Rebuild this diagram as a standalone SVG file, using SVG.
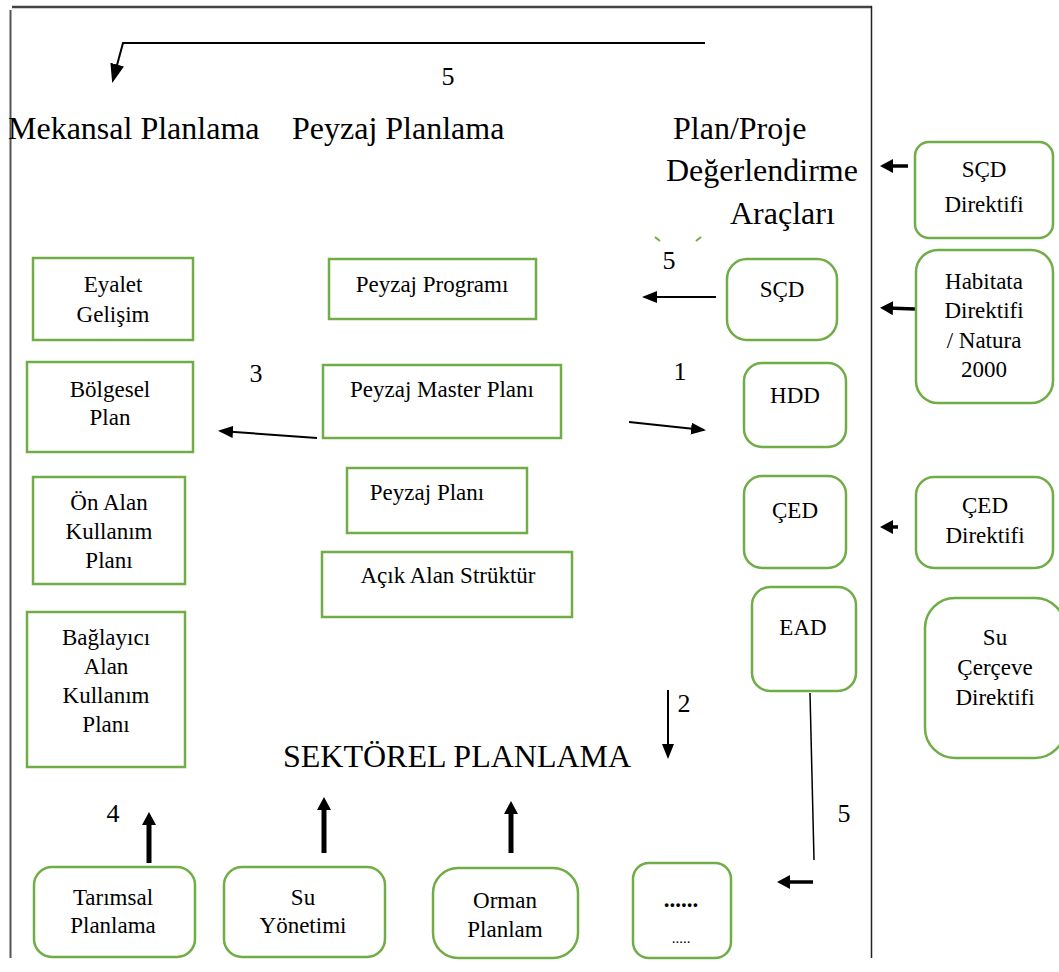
<svg xmlns="http://www.w3.org/2000/svg" width="1059" height="972" viewBox="0 0 1059 972">
<style>
.bx{fill:#fff;stroke:#70AD47;stroke-width:2.5}
.t{font-family:"Liberation Serif","Times New Roman",serif;font-size:23px;fill:#000;text-anchor:middle}
.h{font-family:"Liberation Serif","Times New Roman",serif;font-size:32px;fill:#000}
.n{font-family:"Liberation Serif","Times New Roman",serif;font-size:26px;fill:#000;text-anchor:middle}
.ln{fill:none;stroke:#000;stroke-width:2}
.lb{fill:none;stroke:#000;stroke-width:5}
.lm{fill:none;stroke:#000;stroke-width:3.5}
</style>
<defs>
<marker id="a" markerUnits="userSpaceOnUse" markerWidth="16" markerHeight="12" refX="13" refY="6" orient="auto"><path d="M0,0 L15,6 L0,12 z" fill="#000"/></marker>
<marker id="at" markerUnits="userSpaceOnUse" markerWidth="20" markerHeight="14" refX="16" refY="7" orient="auto"><path d="M0,0 L19,7 L0,14 z" fill="#000"/></marker>
<marker id="ab" markerUnits="userSpaceOnUse" markerWidth="14" markerHeight="14" refX="6" refY="7" orient="auto"><path d="M0,0 L13,7 L0,14 z" fill="#000"/></marker>
</defs>
<rect width="1059" height="972" fill="#fff"/>
<g id="frame">
<line x1="12" y1="7" x2="872" y2="7" stroke="#444" stroke-width="2.5"/>
<line x1="10.5" y1="10" x2="10.5" y2="958" stroke="#555" stroke-width="2"/>
<line x1="871.5" y1="6" x2="871.5" y2="958" stroke="#222" stroke-width="1.5"/>
</g>
<g id="headers">
<text class="h" x="8" y="139">Mekansal Planlama</text>
<text class="h" x="292" y="139">Peyzaj Planlama</text>
<text class="h" x="673" y="139">Plan/Proje</text>
<text class="h" x="666" y="181">Değerlendirme</text>
<text class="h" x="730" y="224">Araçları</text>
<text class="h" x="283" y="767">SEKTÖREL PLANLAMA</text>
</g>
<g id="connectors">
<polyline class="ln" points="705,43 123,43 113,80" stroke="#333" stroke-width="2.5" marker-end="url(#at)"/>
<line class="ln" x1="716" y1="297" x2="644" y2="297" marker-end="url(#a)"/>
<line class="ln" x1="629" y1="422" x2="704" y2="430" marker-end="url(#a)"/>
<line class="ln" x1="317" y1="438" x2="220" y2="431" marker-end="url(#a)"/>
<line class="lm" x1="908" y1="166" x2="887" y2="166" marker-end="url(#ab)"/>
<line class="lm" x1="915" y1="309" x2="887" y2="308" marker-end="url(#ab)"/>
<line class="lm" x1="898" y1="527" x2="887" y2="527" marker-end="url(#ab)"/>
<line x1="810" y1="693" x2="814" y2="860" stroke="#000" stroke-width="1.5"/>
<line class="lm" x1="813" y1="882" x2="784" y2="882" marker-end="url(#ab)"/>
<line class="lb" x1="149" y1="863" x2="149" y2="819" marker-end="url(#ab)"/>
<line class="lb" x1="324" y1="853" x2="324" y2="804" marker-end="url(#ab)"/>
<line class="lb" x1="511" y1="853" x2="511" y2="808" marker-end="url(#ab)"/>
<line class="ln" x1="668" y1="690" x2="668" y2="757" marker-end="url(#a)"/>
<path d="M655,237 L660,241 M701,237 L696,241" stroke="#70AD47" stroke-width="2" fill="none"/>
</g>
<g id="labels">
<text class="n" x="448" y="85">5</text>
<text class="n" x="669" y="269">5</text>
<text class="n" x="256" y="382">3</text>
<text class="n" x="680" y="380">1</text>
<text class="n" x="684" y="712">2</text>
<text class="n" x="113" y="822">4</text>
<text class="n" x="844" y="822">5</text>
</g>
<g id="eyalet"><rect class="bx" x="33" y="258" width="160" height="82"/><text class="t" x="113" y="292">Eyalet</text><text class="t" x="113" y="322">Gelişim</text></g>
<g id="bolgesel"><rect class="bx" x="27" y="362" width="166" height="90"/><text class="t" x="110" y="397">Bölgesel</text><text class="t" x="110" y="425">Plan</text></g>
<g id="onalan"><rect class="bx" x="33" y="477" width="152" height="107"/><text class="t" x="109" y="510">Ön Alan</text><text class="t" x="109" y="539">Kullanım</text><text class="t" x="109" y="568">Planı</text></g>
<g id="baglayici"><rect class="bx" x="27" y="612" width="158" height="155"/><text class="t" x="106" y="645">Bağlayıcı</text><text class="t" x="106" y="674">Alan</text><text class="t" x="106" y="703">Kullanım</text><text class="t" x="106" y="732">Planı</text></g>
<g id="peyzaj-programi"><rect class="bx" x="329" y="259" width="207" height="60"/><text class="t" x="432" y="292">Peyzaj Programı</text></g>
<g id="peyzaj-master"><rect class="bx" x="323" y="365" width="238" height="73"/><text class="t" x="442" y="397">Peyzaj Master Planı</text></g>
<g id="peyzaj-plani"><rect class="bx" x="347" y="468" width="180" height="65"/><text class="t" x="427" y="500">Peyzaj Planı</text></g>
<g id="acik-alan"><rect class="bx" x="322" y="552" width="250" height="65"/><text class="t" x="448" y="583">Açık Alan Strüktür</text></g>
<g id="scd"><rect class="bx" x="727" y="259" width="110" height="81" rx="20"/><text class="t" x="782" y="297">SÇD</text></g>
<g id="hdd"><rect class="bx" x="744" y="363" width="102" height="84" rx="18"/><text class="t" x="795" y="403">HDD</text></g>
<g id="ced"><rect class="bx" x="744" y="476" width="102" height="92" rx="18"/><text class="t" x="795" y="518">ÇED</text></g>
<g id="ead"><rect class="bx" x="752" y="587" width="104" height="104" rx="18"/><text class="t" x="803" y="635">EAD</text></g>
<g id="scd-direktifi"><rect class="bx" x="915" y="142" width="138" height="96" rx="14"/><text class="t" x="984" y="177">SÇD</text><text class="t" x="984" y="212">Direktifi</text></g>
<g id="habitata"><rect class="bx" x="916" y="250" width="137" height="153" rx="22"/><text class="t" x="984" y="289">Habitata</text><text class="t" x="984" y="318">Direktifi</text><text class="t" x="984" y="348">/ Natura</text><text class="t" x="984" y="377">2000</text></g>
<g id="ced-direktifi"><rect class="bx" x="916" y="477" width="137" height="91" rx="18"/><text class="t" x="985" y="513">ÇED</text><text class="t" x="985" y="543">Direktifi</text></g>
<g id="su-cerceve"><rect class="bx" x="925" y="598" width="140" height="160" rx="30"/><text class="t" x="995" y="645">Su</text><text class="t" x="995" y="675">Çerçeve</text><text class="t" x="995" y="705">Direktifi</text></g>
<g id="tarimsal"><rect class="bx" x="34" y="867" width="161" height="90" rx="18"/><text class="t" x="113" y="905">Tarımsal</text><text class="t" x="113" y="933">Planlama</text></g>
<g id="su-yonetimi"><rect class="bx" x="224" y="867" width="161" height="90" rx="18"/><text class="t" x="303" y="905">Su</text><text class="t" x="303" y="933">Yönetimi</text></g>
<g id="orman"><rect class="bx" x="433" y="868" width="145" height="90" rx="25"/><text class="t" x="505" y="908">Orman</text><text class="t" x="505" y="937">Planlam</text></g>
<g id="diger"><rect class="bx" x="633" y="863" width="98" height="95" rx="16"/><text class="t" x="681" y="907" font-weight="bold">......</text><text class="t" x="681" y="943" style="font-size:15px">.....</text></g>
</svg>
